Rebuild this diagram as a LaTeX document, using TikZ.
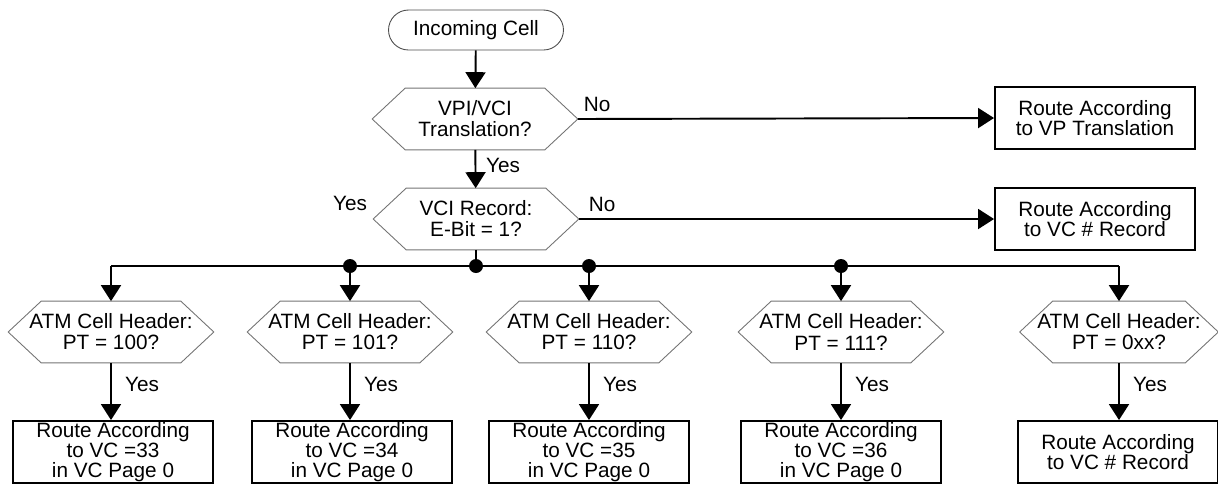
\documentclass[tikz,border=0pt]{standalone}
\usepackage{fontspec}
\setmainfont{Liberation Sans}
\usetikzlibrary{arrows.meta}

\tikzset{
  terminal/.style={draw=black!70, line width=0.5pt, rounded corners=0.4cm,
    minimum width=3.5cm, minimum height=0.8cm, inner sep=0pt,
    font=\fontsize{11.8}{12}\selectfont},
  decision/.style={minimum width=4.1cm, minimum height=1.22cm, inner sep=0pt,
    align=center, font=\fontsize{11.8}{12}\selectfont},
  process/.style={draw, line width=1.1pt, minimum width=4cm, minimum height=1.24cm,
    inner sep=0pt, align=center, font=\fontsize{11.8}{11.2}\selectfont},
  flow/.style={line width=1.1pt, -{Triangle[length=0.32cm, width=0.4cm]}},
  bus/.style={line width=1.1pt},
  lbl/.style={inner sep=1pt, font=\fontsize{11.8}{12}\selectfont},
  junction/.style={circle, fill=black, minimum size=0.28cm, inner sep=0pt}
}

\begin{document}
\begin{tikzpicture}[x=0.02cm, y=-0.02cm]
    \useasboundingbox (0, 0) rectangle (1218, 485);

    % top of the chart
    \node[terminal] (start) at (476, 30) {Incoming Cell};
    \node[decision] (vpi) at (475, 119) {VPI/VCI\\Translation?};
    \node[decision] (vci) at (476, 219) {VCI Record:\\E-Bit = 1?};
    \node[process] (vp) at (1095, 118) {Route According\\to VP Translation};
    \node[process] (vcrec) at (1095, 219) {Route According\\to VC \# Record};

    % payload type checks
    \node[decision] (pt100) at (111, 332) {ATM Cell Header:\\PT = 100?};
    \node[decision] (pt101) at (350, 332) {ATM Cell Header:\\PT = 101?};
    \node[decision] (pt110) at (589, 332) {ATM Cell Header:\\PT = 110?};
    \node[decision] (pt111) at (841, 332) {ATM Cell Header:\\PT = 111?};
    \node[decision, minimum width=3.96cm] (pt0xx) at (1119, 332) {ATM Cell Header:\\PT = 0xx?};

    % routing boxes
    \node[process] (vc33) at (113, 452) {Route According\\to VC =33\\in VC Page 0};
    \node[process] (vc34) at (352, 452) {Route According\\to VC =34\\in VC Page 0};
    \node[process] (vc35) at (589, 452) {Route According\\to VC =35\\in VC Page 0};
    \node[process] (vc36) at (841, 452) {Route According\\to VC =36\\in VC Page 0};
    \node[process] (vcnum) at (1118, 452) {Route According\\to VC \# Record};

    % hexagon outlines
    \foreach \n in {vpi, vci, pt100, pt101, pt110, pt111, pt0xx}
      \draw[black!55, line width=0.5pt] (\n.west) -- ([xshift=0.66cm]\n.north west)
        -- ([xshift=-0.66cm]\n.north east) -- (\n.east)
        -- ([xshift=-0.66cm]\n.south east) -- ([xshift=0.66cm]\n.south west) -- cycle;

    % main flow
    \draw[flow] (start) -- (vpi);
    \draw[flow] (vpi) -- (vci);
    \draw[flow] (vpi.east) -- (vp.west);
    \draw[flow] (vci.east) -- (vcrec.west);

    \node[lbl, anchor=south west] (no1) at ([xshift=0.08cm, yshift=0.1cm]vpi.east) {No};
    \node[lbl, anchor=south west] (no2) at ([xshift=0.16cm, yshift=0.1cm]vci.east) {No};
    \node[lbl, anchor=north west] (yes1) at ([xshift=0.18cm, yshift=-0.12cm]vpi.south) {Yes};
    \node[lbl, anchor=south east] (yes2) at ([xshift=-0.08cm, yshift=0.12cm]vci.west) {Yes};

    % branch bus
    \coordinate (j0) at (111, 266);
    \coordinate (j1) at (350, 266);
    \coordinate (j2) at (476, 266);
    \coordinate (j3) at (589, 266);
    \coordinate (j4) at (841, 266);
    \coordinate (j5) at (1119, 266);
    \draw[bus] (vci.south) -- (j2);
    \draw[bus] (j0) -- (j5);
    \foreach \j/\p in {j0/pt100, j1/pt101, j3/pt110, j4/pt111, j5/pt0xx}
      \draw[flow] (\j) -- (\p.north);
    \foreach \j in {j1, j2, j3, j4}
      \node[junction] (dot\j) at (\j) {};

    % yes branches
    \foreach \p/\b in {pt100/vc33, pt101/vc34, pt110/vc35, pt111/vc36, pt0xx/vcnum} {
      \draw[flow] (\p.south) -- (\p.south |- \b.north);
      \node[lbl, anchor=north west] (yes\p) at ([xshift=0.24cm, yshift=-0.24cm]\p.south) {Yes};
    }
\end{tikzpicture}
\end{document}
